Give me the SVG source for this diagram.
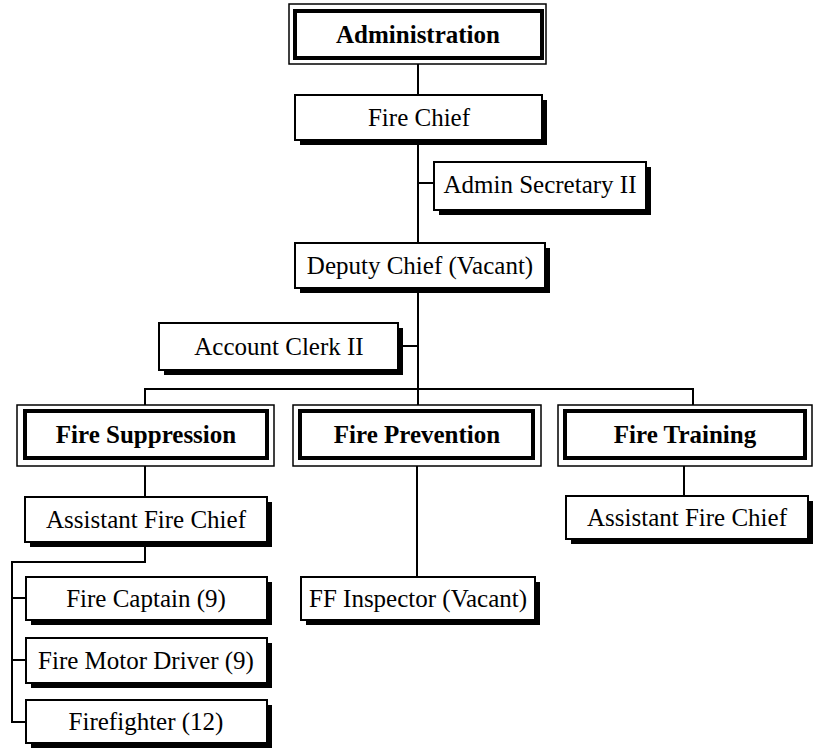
<svg xmlns="http://www.w3.org/2000/svg" width="814" height="749" viewBox="0 0 814 749" font-family="'Liberation Serif', 'DejaVu Serif', serif">
  <style>
    .bg { fill: #ffffff; }
    .lbl { font-family: 'Liberation Serif', 'DejaVu Serif', serif; font-size: 25px; fill: #000; text-anchor: middle; }
    .hd { font-weight: bold; }
    .shadow { fill: #000; }
    .box { fill: #fff; stroke: #000; stroke-width: 2; }
    .frame { fill: #fff; stroke: #000; stroke-width: 1.5; }
    .inner { fill: #fff; stroke: #000; stroke-width: 4; }
    .wire { fill: none; stroke: #000; stroke-width: 2; }
  </style>

  <rect class="bg" x="0" y="0" width="814" height="749"/>

  <!-- connectors -->
  <g id="connectors">
    <path class="wire" d="M418 64 V243"/>
    <path class="wire" d="M418 183 H434"/>
    <path class="wire" d="M418 288 V405"/>
    <path class="wire" d="M403 346 H418"/>
    <path class="wire" d="M145 405 V389 H693 V405"/>
    <path class="wire" d="M145 466 V497"/>
    <path class="wire" d="M145 542 V562 H12 V722 H26"/>
    <path class="wire" d="M12 598 H26"/>
    <path class="wire" d="M12 660 H26"/>
    <path class="wire" d="M417 466 V577"/>
    <path class="wire" d="M684 466 V496"/>
  </g>

  <!-- heading boxes: thin frame with heavy inner border -->
  <g id="administration">
    <rect class="frame" x="289" y="4" width="257" height="60"/>
    <rect class="inner" x="295" y="11" width="247" height="47"/>
    <text class="lbl hd" x="418" y="43">Administration</text>
  </g>

  <g id="fire-suppression">
    <rect class="frame" x="17" y="405" width="257" height="61"/>
    <rect class="inner" x="25" y="411" width="242" height="47"/>
    <text class="lbl hd" x="146" y="443">Fire Suppression</text>
  </g>

  <g id="fire-prevention">
    <rect class="frame" x="293" y="405" width="248" height="61"/>
    <rect class="inner" x="300" y="411" width="233" height="47"/>
    <text class="lbl hd" x="417" y="443">Fire Prevention</text>
  </g>

  <g id="fire-training">
    <rect class="frame" x="558" y="405" width="254" height="61"/>
    <rect class="inner" x="565" y="411" width="240" height="47"/>
    <text class="lbl hd" x="685" y="443">Fire Training</text>
  </g>

  <!-- position boxes with drop shadow -->
  <g id="fire-chief">
    <rect class="shadow" x="300" y="100" width="247" height="45"/>
    <rect class="box" x="295" y="95" width="247" height="45"/>
    <text class="lbl" x="419" y="126">Fire Chief</text>
  </g>

  <g id="admin-secretary">
    <rect class="shadow" x="439" y="167" width="212" height="48"/>
    <rect class="box" x="434" y="162" width="212" height="48"/>
    <text class="lbl" x="540" y="193">Admin Secretary II</text>
  </g>

  <g id="deputy-chief">
    <rect class="shadow" x="300" y="248" width="250" height="45"/>
    <rect class="box" x="295" y="243" width="250" height="45"/>
    <text class="lbl" x="420" y="274">Deputy Chief (Vacant)</text>
  </g>

  <g id="account-clerk">
    <rect class="shadow" x="164" y="328" width="239" height="47"/>
    <rect class="box" x="159" y="323" width="239" height="47"/>
    <text class="lbl" x="279" y="355">Account Clerk II</text>
  </g>

  <g id="assistant-chief-suppression">
    <rect class="shadow" x="30" y="502" width="242" height="45"/>
    <rect class="box" x="25" y="497" width="242" height="45"/>
    <text class="lbl" x="146" y="528">Assistant Fire Chief</text>
  </g>

  <g id="fire-captain">
    <rect class="shadow" x="31" y="582" width="241" height="43"/>
    <rect class="box" x="26" y="577" width="241" height="43"/>
    <text class="lbl" x="146" y="607">Fire Captain (9)</text>
  </g>

  <g id="fire-motor-driver">
    <rect class="shadow" x="31" y="643" width="241" height="45"/>
    <rect class="box" x="26" y="638" width="241" height="45"/>
    <text class="lbl" x="146" y="669">Fire Motor Driver (9)</text>
  </g>

  <g id="firefighter">
    <rect class="shadow" x="31" y="705" width="241" height="43"/>
    <rect class="box" x="26" y="700" width="241" height="43"/>
    <text class="lbl" x="146" y="730">Firefighter (12)</text>
  </g>

  <g id="ff-inspector">
    <rect class="shadow" x="306" y="582" width="234" height="43"/>
    <rect class="box" x="301" y="577" width="234" height="43"/>
    <text class="lbl" x="418" y="607">FF Inspector (Vacant)</text>
  </g>

  <g id="assistant-chief-training">
    <rect class="shadow" x="571" y="501" width="242" height="43"/>
    <rect class="box" x="566" y="496" width="242" height="43"/>
    <text class="lbl" x="687" y="526">Assistant Fire Chief</text>
  </g>
</svg>
